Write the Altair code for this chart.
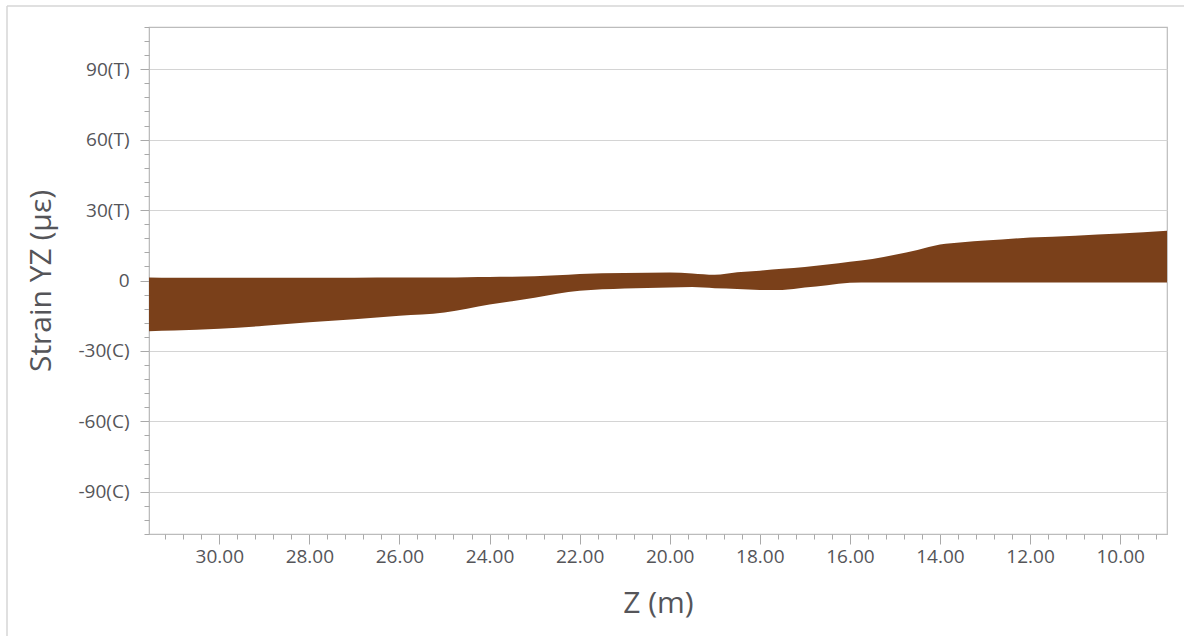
import altair as alt
import pandas as pd

# ---- data ----
z_m = [31.56, 31.0, 30.0, 29.0, 28.0, 27.0, 26.0, 25.0, 24.5, 24.0, 23.5, 23.0,
       22.5, 22.0, 21.0, 20.0, 19.5, 19.0, 18.5, 18.0, 17.5, 17.0, 16.5, 16.0,
       15.5, 15.0, 14.5, 14.0, 13.5, 13.0, 12.0, 11.0, 10.0, 8.96]
strain_upper = [1.3, 1.2, 1.2, 1.2, 1.2, 1.2, 1.3, 1.3, 1.4, 1.5, 1.6, 1.8,
                2.2, 2.8, 3.2, 3.4, 3.0, 2.4, 3.5, 4.2, 5.0, 5.8, 6.8, 8.0,
                9.2, 11.0, 13.0, 15.3, 16.3, 17.0, 18.3, 19.1, 20.0, 21.2]
strain_lower = [-21.6, -21.3, -20.6, -19.3, -17.8, -16.5, -15.0, -13.6, -12.0, -10.2, -8.8, -7.3,
                -5.6, -4.4, -3.4, -3.0, -2.8, -3.3, -3.6, -4.0, -4.0, -3.0, -2.0, -1.0,
                -0.8, -0.8, -0.8, -0.8, -0.8, -0.8, -0.8, -0.8, -0.8, -0.8]

x_major = [10, 12, 14, 16, 18, 20, 22, 24, 26, 28, 30]
x_minor = [round(9.2 + 0.4 * i, 1) for i in range(56)]
x_minor = [v for v in x_minor if abs(v - round(v / 2) * 2) > 1e-6]
y_major = [-90, -60, -30, 0, 30, 60, 90]
y_minor = [v for v in range(-108, 109, 6) if v % 30 != 0]

BROWN = "#7a401a"
TXT = "#555559"
FONT = "Open Sans"

df = pd.DataFrame({"z": z_m, "upper": strain_upper, "lower": strain_lower})

x_scale = alt.Scale(domain=[8.96, 31.56], reverse=True, nice=False, zero=False)
y_scale = alt.Scale(domain=[-108, 108], nice=False, zero=False)

area = alt.Chart(df).mark_area(color=BROWN, opacity=1, interpolate="monotone").encode(
    x=alt.X("z:Q", scale=x_scale,
            axis=alt.Axis(values=x_major, format=".2f", title="Z (m)", grid=False,
                          tickSize=10, labelPadding=3, titlePadding=22, orient="bottom")),
    y=alt.Y("upper:Q", scale=y_scale,
            axis=alt.Axis(values=y_major, grid=True, title="Strain YZ (με)",
                          labelExpr="datum.value > 0 ? datum.value + '(T)' : (datum.value < 0 ? datum.value + '(C)' : '0')",
                          tickSize=9, labelPadding=11, titlePadding=21, orient="left")),
    y2="lower:Q",
)

minor = alt.Chart(df).mark_line(opacity=0).encode(
    x=alt.X("z:Q", scale=x_scale,
            axis=alt.Axis(values=x_minor, labels=False, title=None, grid=False,
                          tickSize=5, domain=False, orient="bottom")),
    y=alt.Y("upper:Q", scale=y_scale,
            axis=alt.Axis(values=y_minor, labels=False, title=None, grid=False,
                          tickSize=5, domain=False, orient="left")),
)

one = pd.DataFrame({"k": [0]})
frame_left = alt.Chart(one).mark_rule(color="#d6d6d6", strokeWidth=1.5).encode(
    x=alt.value(-142), y=alt.value(-21), y2=alt.value(609))
frame_top = alt.Chart(one).mark_rule(color="#d6d6d6", strokeWidth=1.5).encode(
    x=alt.value(-142), x2=alt.value(1040), y=alt.value(-21))

chart = alt.layer(area, minor, frame_left, frame_top).resolve_axis(
    x="independent", y="independent"
).properties(
    width=1018, height=507,
    padding={"left": 149, "top": 27, "right": 17, "bottom": 102},
    autosize=alt.AutoSizeParams(type="none"),
).configure_view(
    stroke="#bcbcbc", strokeWidth=1.2
).configure_axis(
    domainColor="#bcbcbc", tickColor="#a9a9a9", gridColor="#d4d4d4",
    labelFont=FONT, labelFontSize=19, labelColor=TXT,
    titleFont=FONT, titleFontSize=30, titleFontWeight="normal", titleColor=TXT,
)

chart.save("out.html", embed_options={"renderer": "svg", "actions": False})
